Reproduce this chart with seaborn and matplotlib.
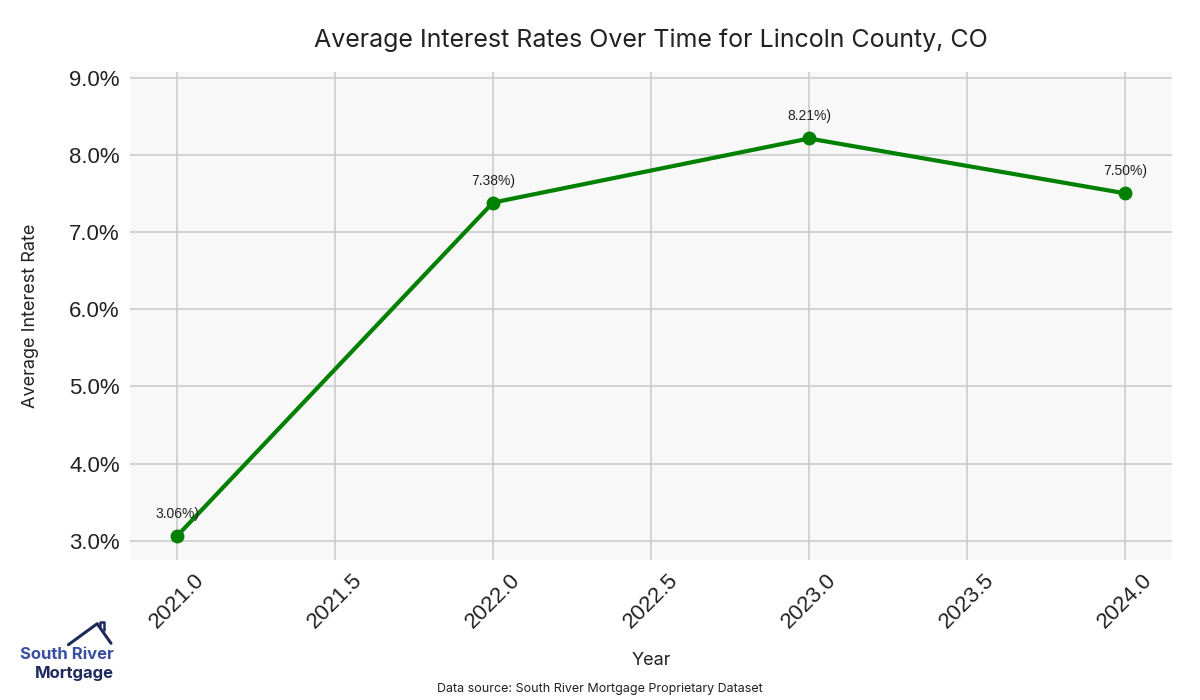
import pandas as pd
import matplotlib.pyplot as plt
import seaborn as sns
from matplotlib.ticker import FuncFormatter
from matplotlib.lines import Line2D

# Данные
years = [2021, 2022, 2023, 2024]
rates = [3.06, 7.38, 8.21, 7.50]

df = pd.DataFrame({'year': years, 'rate': rates})

sns.set_style("whitegrid", {'axes.facecolor': '#f8f8f8', 'grid.color': '#cccccc'})
plt.rcParams['font.family'] = ['Liberation Sans', 'DejaVu Sans']

fig = plt.figure(figsize=(12, 7), dpi=100)
ax = fig.add_axes([0.108, 0.2, 0.869, 0.697])

sns.lineplot(data=df, x='year', y='rate', marker='o', color='green', linewidth=3,
             markersize=10, markeredgecolor='green', markeredgewidth=0, ax=ax)

for x, y in zip(years, rates):
    ax.annotate(f'{y:.2f}%)', (x, y), textcoords='offset points', xytext=(0, 13),
                ha='center', fontsize=10, color='#222222')

ax.set_ylim(2.75, 9.07)
ax.set_xlim(2020.85, 2024.15)
ax.set_xticks([2021.0, 2021.5, 2022.0, 2022.5, 2023.0, 2023.5, 2024.0])
ax.set_xticklabels([f'{t:.1f}' for t in ax.get_xticks()], rotation=45, fontsize=16, color='#222222')
ax.yaxis.set_major_formatter(FuncFormatter(lambda v, p: f'{v:.1f}%'))
ax.tick_params(axis='y', labelsize=16, colors='#222222')
ax.tick_params(axis='x', colors='#222222')
for s in ax.spines.values():
    s.set_visible(False)
ax.grid(True, color='#cccccc', linewidth=1.2)

ax.set_title('Average Interest Rates Over Time for Lincoln County, CO',
             fontsize=18, family=['Inter', 'DejaVu Sans'], color='#222222', pad=18)
ax.set_xlabel('Year', fontsize=13, family=['Inter', 'DejaVu Sans'], color='#222222', labelpad=14)
ax.set_ylabel('Average Interest Rate', fontsize=13, family=['Inter', 'DejaVu Sans'], color='#222222',
              labelpad=22)

fig.text(0.5, 0.012, 'Data source: South River Mortgage Proprietary Dataset', ha='center',
         fontsize=9, family=['Inter', 'DejaVu Sans'], color='#222222')

# Логотип
fig.text(0.0555, 0.058, 'South River', ha='center', fontsize=12, color='#3b4fa0',
         family=['Inter', 'DejaVu Sans'], weight='bold')
fig.text(0.062, 0.031, 'Mortgage', ha='center', fontsize=12, color='#1f2a5c',
         family=['Inter', 'DejaVu Sans'], weight='bold')
fig.add_artist(Line2D([0.057, 0.081, 0.0925], [0.079, 0.109, 0.081],
                      color='#1f2a5c', linewidth=2.2, transform=fig.transFigure))
fig.add_artist(Line2D([0.0835, 0.0835, 0.0865, 0.0865], [0.106, 0.112, 0.112, 0.100],
                      color='#1f2a5c', linewidth=1.8, transform=fig.transFigure))

plt.savefig('out.png', dpi=100)
plt.close()
